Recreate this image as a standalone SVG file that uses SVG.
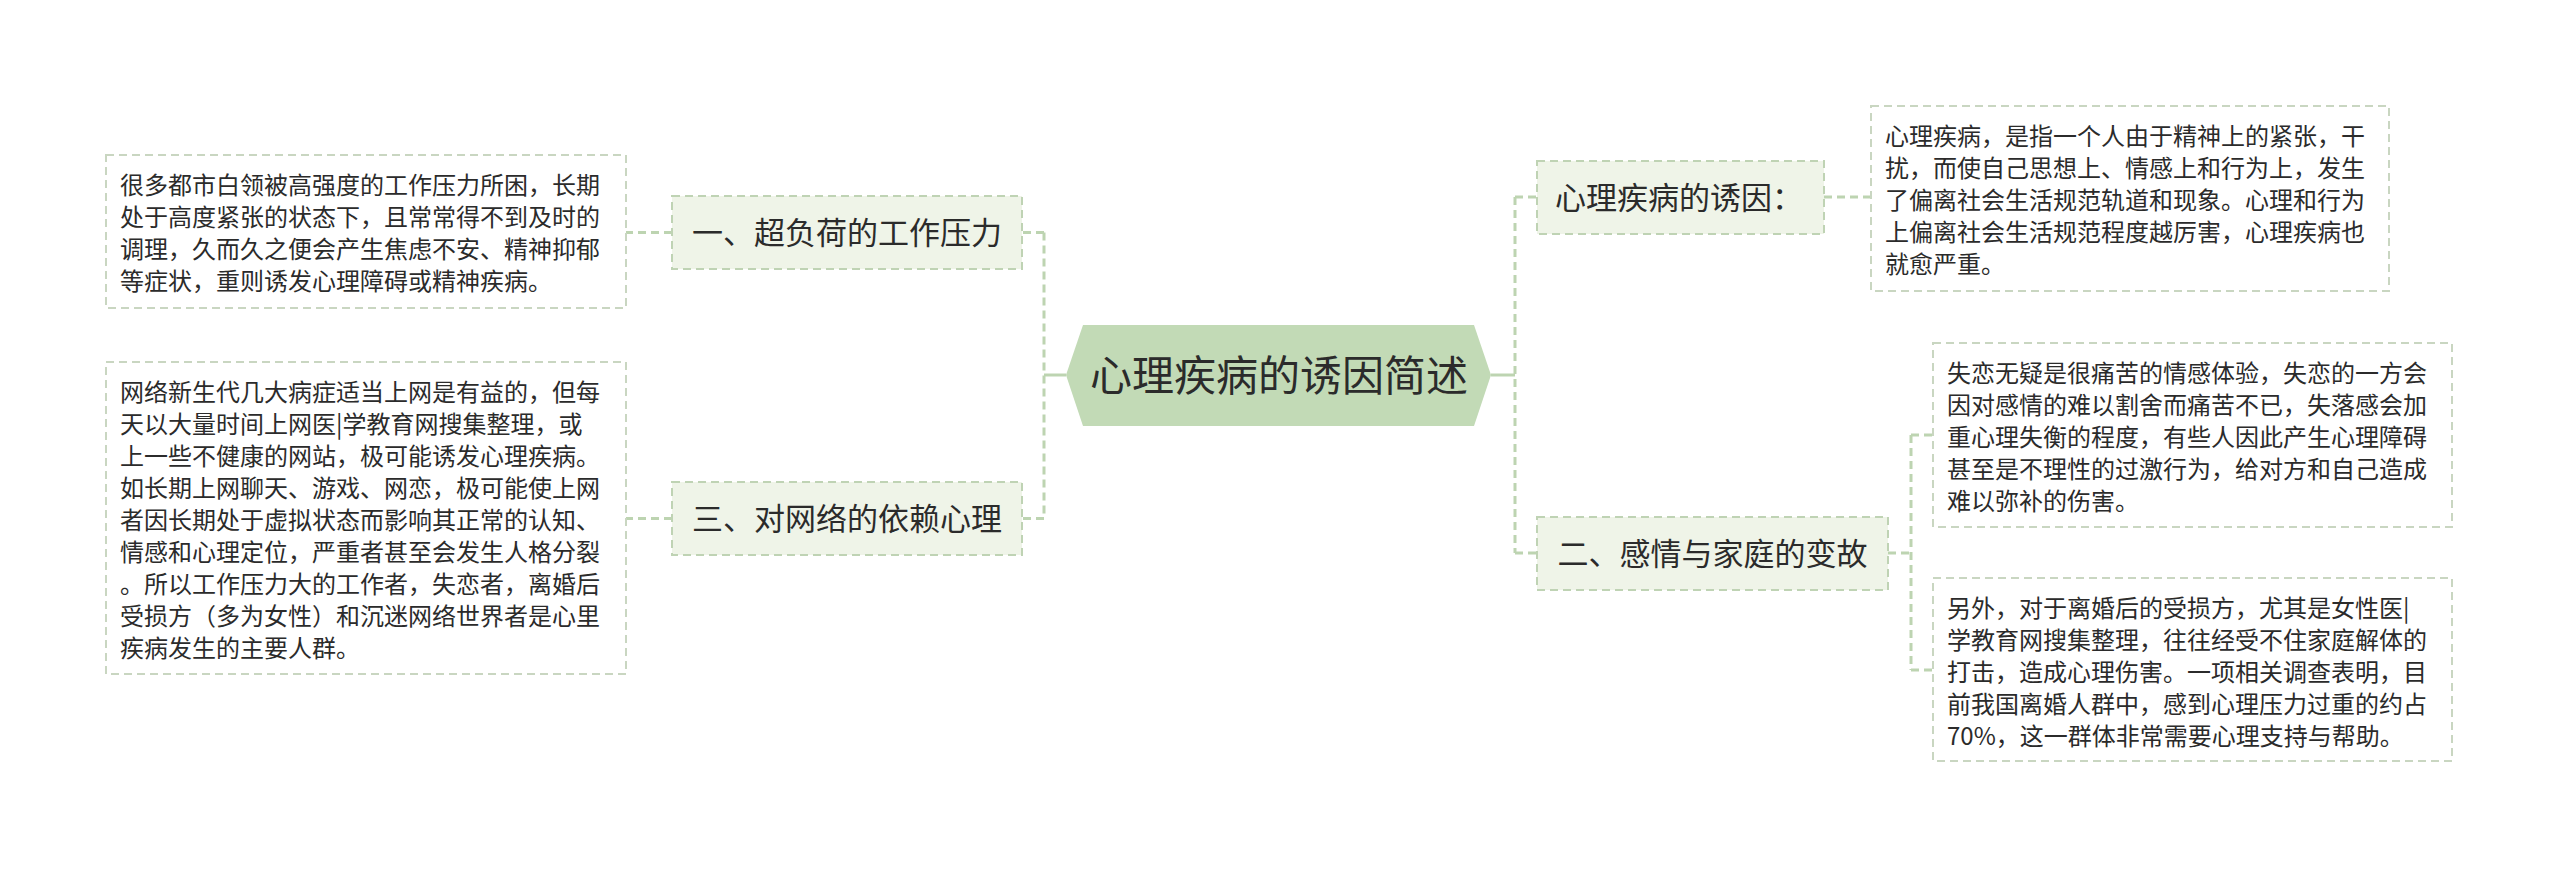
<svg xmlns="http://www.w3.org/2000/svg" width="2560" height="870" viewBox="0 0 2560 870">
<style>
text{font-family:"Noto Sans CJK SC","Noto Sans",sans-serif;fill:#2b2b2b}
.d{font-size:24px}
.n{font-size:31px}
.c{font-size:42px}
.box{fill:#ffffff;stroke:#c9d6c1;stroke-width:2;stroke-dasharray:8 5}
.node{fill:#eff4e8;stroke:#bfd3b4;stroke-width:2;stroke-dasharray:8 5}
.con{fill:none;stroke:#bdd4b1;stroke-width:3;stroke-dasharray:8 5}
.solid{fill:none;stroke:#bdd4b1;stroke-width:3}
</style>
<rect width="2560" height="870" fill="#ffffff"/>
<g id="connectors">
<line class="solid" x1="1066" y1="375" x2="1044" y2="375"/>
<line class="con" x1="1044" y1="232.5" x2="1044" y2="518.5"/>
<line class="con" x1="1044" y1="232.5" x2="1022" y2="232.5"/>
<line class="con" x1="1044" y1="518.5" x2="1022" y2="518.5"/>
<line class="con" x1="672" y1="232.5" x2="626" y2="232.5"/>
<line class="con" x1="672" y1="518.5" x2="626" y2="518.5"/>
<line class="solid" x1="1491" y1="375" x2="1515" y2="375"/>
<line class="con" x1="1515" y1="197" x2="1515" y2="553"/>
<line class="con" x1="1515" y1="197" x2="1537" y2="197"/>
<line class="con" x1="1515" y1="553" x2="1537" y2="553"/>
<line class="con" x1="1824" y1="197" x2="1871" y2="197"/>
<line class="con" x1="1888" y1="553" x2="1911" y2="553"/>
<line class="con" x1="1911" y1="435" x2="1911" y2="670"/>
<line class="con" x1="1911" y1="435" x2="1933" y2="435"/>
<line class="con" x1="1911" y1="670" x2="1933" y2="670"/>
</g>
<g id="center">
<polygon points="1083,325 1474,325 1491,375 1474,426 1083,426 1066,375" fill="#c2dab6"/>
<text class="c" x="1279" y="391" text-anchor="middle">心理疾病的诱因简述</text>
</g>
<g id="node-1">
<rect class="node" x="672" y="196" width="350" height="73"/>
<text class="n" x="847" y="243.5" text-anchor="middle">一、超负荷的工作压力</text>
</g>
<g id="node-3">
<rect class="node" x="672" y="482" width="350" height="73"/>
<text class="n" x="847" y="529.5" text-anchor="middle">三、对网络的依赖心理</text>
</g>
<g id="node-cause">
<rect class="node" x="1537" y="161" width="287" height="73"/>
<text class="n" x="1555" y="208.5">心理疾病的诱因：</text>
</g>
<g id="node-2">
<rect class="node" x="1537" y="517" width="351" height="73"/>
<text class="n" x="1712.5" y="564.5" text-anchor="middle">二、感情与家庭的变故</text>
</g>
<g id="detail-1">
<rect class="box" x="106" y="155" width="520" height="153"/>
<text class="d" x="120" y="194">很多都市白领被高强度的工作压力所困，长期</text>
<text class="d" x="120" y="226">处于高度紧张的状态下，且常常得不到及时的</text>
<text class="d" x="120" y="258">调理，久而久之便会产生焦虑不安、精神抑郁</text>
<text class="d" x="120" y="290">等症状，重则诱发心理障碍或精神疾病。</text>
</g>
<g id="detail-3">
<rect class="box" x="106" y="362" width="520" height="312"/>
<text class="d" x="120" y="401">网络新生代几大病症适当上网是有益的，但每</text>
<text class="d" x="120" y="433">天以大量时间上网医|学教育网搜集整理，或</text>
<text class="d" x="120" y="465">上一些不健康的网站，极可能诱发心理疾病。</text>
<text class="d" x="120" y="497">如长期上网聊天、游戏、网恋，极可能使上网</text>
<text class="d" x="120" y="529">者因长期处于虚拟状态而影响其正常的认知、</text>
<text class="d" x="120" y="561">情感和心理定位，严重者甚至会发生人格分裂</text>
<text class="d" x="120" y="593">。所以工作压力大的工作者，失恋者，离婚后</text>
<text class="d" x="120" y="625">受损方（多为女性）和沉迷网络世界者是心里</text>
<text class="d" x="120" y="657">疾病发生的主要人群。</text>
</g>
<g id="detail-cause">
<rect class="box" x="1871" y="106" width="518" height="185"/>
<text class="d" x="1885" y="145">心理疾病，是指一个人由于精神上的紧张，干</text>
<text class="d" x="1885" y="177">扰，而使自己思想上、情感上和行为上，发生</text>
<text class="d" x="1885" y="209">了偏离社会生活规范轨道和现象。心理和行为</text>
<text class="d" x="1885" y="241">上偏离社会生活规范程度越厉害，心理疾病也</text>
<text class="d" x="1885" y="273">就愈严重。</text>
</g>
<g id="detail-2a">
<rect class="box" x="1933" y="343" width="519" height="184"/>
<text class="d" x="1947" y="382">失恋无疑是很痛苦的情感体验，失恋的一方会</text>
<text class="d" x="1947" y="414">因对感情的难以割舍而痛苦不已，失落感会加</text>
<text class="d" x="1947" y="446">重心理失衡的程度，有些人因此产生心理障碍</text>
<text class="d" x="1947" y="478">甚至是不理性的过激行为，给对方和自己造成</text>
<text class="d" x="1947" y="510">难以弥补的伤害。</text>
</g>
<g id="detail-2b">
<rect class="box" x="1933" y="578" width="519" height="183"/>
<text class="d" x="1947" y="617">另外，对于离婚后的受损方，尤其是女性医|</text>
<text class="d" x="1947" y="649">学教育网搜集整理，往往经受不住家庭解体的</text>
<text class="d" x="1947" y="681">打击，造成心理伤害。一项相关调查表明，目</text>
<text class="d" x="1947" y="713">前我国离婚人群中，感到心理压力过重的约占</text>
<text class="d" x="1947" y="745">70%，这一群体非常需要心理支持与帮助。</text>
</g>
</svg>
